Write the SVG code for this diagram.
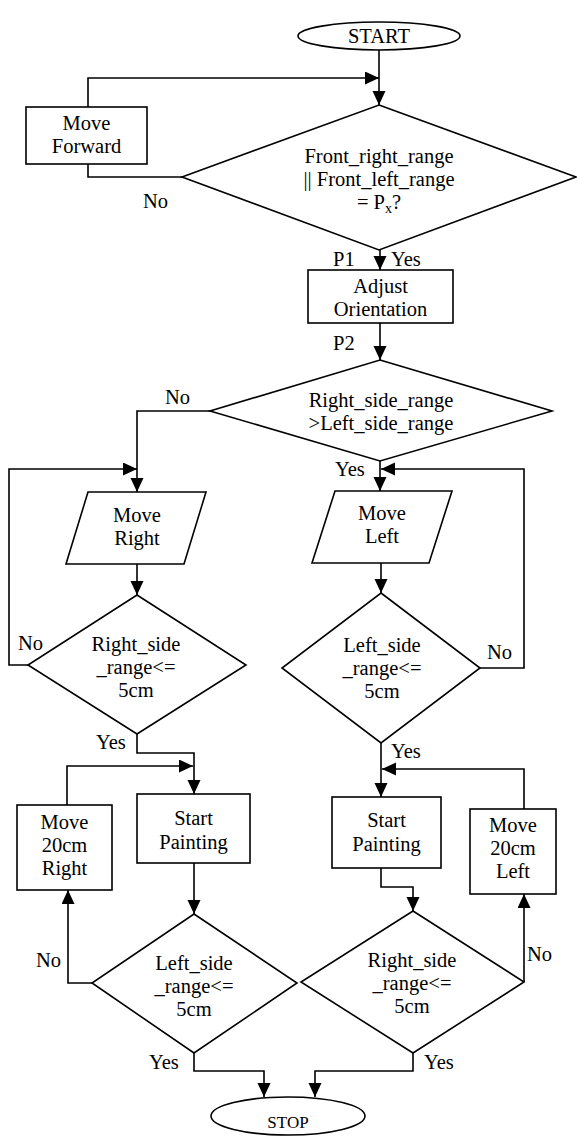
<svg xmlns="http://www.w3.org/2000/svg" width="577" height="1137" viewBox="0 0 577 1137">
<style>
.s{fill:#fff;stroke:#000;stroke-width:1.6}
.c{fill:none;stroke:#000;stroke-width:1.6}
text{font-family:"Liberation Serif","Times New Roman",serif;font-size:20.5px;fill:#000}
.m{text-anchor:middle}
</style>
<defs>
<marker id="a" markerUnits="userSpaceOnUse" markerWidth="15" markerHeight="14" refX="14" refY="6.5" orient="auto">
<path d="M0,0 L14,6.5 L0,13 z" fill="#000"/>
</marker>
</defs>
<g id="connectors" class="c" marker-end="url(#a)">
<path d="M379,50 V105"/>
<path d="M88,107 V78 H379"/>
<path d="M182,177 H88 V164" marker-end="none"/>
<path d="M380,250 V270"/>
<path d="M380,323 V360"/>
<path d="M210,411 H137 V492"/>
<path d="M28,665 H9 V469 H137"/>
<path d="M380,461 V491"/>
<path d="M480,668 H524 V469 H381"/>
<path d="M137,564 V595"/>
<path d="M381,563 V593"/>
<path d="M137,734 V753 H194 V794"/>
<path d="M67,805 V766 H193"/>
<path d="M92,983 H68 V890"/>
<path d="M194,863 V914"/>
<path d="M194,1053 V1071 H264 V1097"/>
<path d="M381,743 V797"/>
<path d="M524,809 V769 H382"/>
<path d="M381,868 V887 H413 V911"/>
<path d="M524,982 V894"/>
<path d="M413,1053 V1071 H315 V1097"/>
</g>
<g id="start"><ellipse class="s" cx="379" cy="36" rx="81" ry="14"/><text class="m" x="379" y="43">START</text></g>
<g id="move_forward"><rect class="s" x="26" y="107" width="121" height="57"/><text class="m" x="86.5" y="130">Move</text><text class="m" x="86.5" y="153">Forward</text></g>
<g id="d1"><polygon class="s" points="379,105 576,177 379,250 182,177"/>
<text class="m" x="379" y="163">Front_right_range</text><text class="m" x="379" y="186">|| Front_left_range</text>
<text class="m" x="379" y="209">= P<tspan font-size="14" dy="4">x</tspan><tspan dy="-4">?</tspan></text></g>
<g id="labels1"><text x="143" y="208">No</text><text x="333" y="266">P1</text><text x="391" y="266">Yes</text><text x="333" y="350">P2</text></g>
<g id="adjust"><rect class="s" x="308" y="270" width="145" height="53"/><text class="m" x="380.5" y="293">Adjust</text><text class="m" x="380.5" y="316">Orientation</text></g>
<g id="d2"><polygon class="s" points="380,360 552,411 380,461 210,411"/>
<text class="m" x="381" y="407">Right_side_range</text><text class="m" x="381" y="430">&gt;Left_side_range</text></g>
<g id="labels2"><text x="165" y="404">No</text><text x="335" y="476">Yes</text></g>
<g id="move_right"><polygon class="s" points="88,492 206,492 184,564 66,564"/><text class="m" x="137" y="522">Move</text><text class="m" x="137" y="545">Right</text></g>
<g id="move_left"><polygon class="s" points="335,491 452,491 429,563 312,563"/><text class="m" x="382" y="520">Move</text><text class="m" x="382" y="543">Left</text></g>
<g id="d3"><polygon class="s" points="137,595 246,665 137,734 28,665"/>
<text class="m" x="136" y="651">Right_side</text><text class="m" x="136" y="674">_range&lt;=</text><text class="m" x="136" y="697">5cm</text></g>
<g id="d4"><polygon class="s" points="381,593 480,668 381,743 282,668"/>
<text class="m" x="382" y="652">Left_side</text><text class="m" x="382" y="675">_range&lt;=</text><text class="m" x="382" y="698">5cm</text></g>
<g id="labels3"><text x="18" y="650">No</text><text x="487" y="659">No</text><text x="96" y="749">Yes</text><text x="391" y="758">Yes</text></g>
<g id="start_painting_l"><rect class="s" x="137" y="794" width="113" height="69"/><text class="m" x="193.5" y="825">Start</text><text class="m" x="193.5" y="849">Painting</text></g>
<g id="move20_right"><rect class="s" x="17" y="805" width="95" height="85"/><text class="m" x="64.5" y="829">Move</text><text class="m" x="64.5" y="852">20cm</text><text class="m" x="64.5" y="875">Right</text></g>
<g id="start_painting_r"><rect class="s" x="332" y="797" width="109" height="71"/><text class="m" x="386.5" y="827">Start</text><text class="m" x="386.5" y="851">Painting</text></g>
<g id="move20_left"><rect class="s" x="470" y="809" width="86" height="85"/><text class="m" x="513" y="832">Move</text><text class="m" x="513" y="855">20cm</text><text class="m" x="513" y="878">Left</text></g>
<g id="d5"><polygon class="s" points="194,914 297,983 194,1053 92,983"/>
<text class="m" x="194" y="970">Left_side</text><text class="m" x="194" y="993">_range&lt;=</text><text class="m" x="194" y="1016">5cm</text></g>
<g id="d6"><polygon class="s" points="413,911 524,982 413,1053 301,982"/>
<text class="m" x="412" y="967">Right_side</text><text class="m" x="412" y="990">_range&lt;=</text><text class="m" x="412" y="1013">5cm</text></g>
<g id="labels4"><text x="36" y="967">No</text><text x="527" y="961">No</text><text x="149" y="1069">Yes</text><text x="424" y="1069">Yes</text></g>
<g id="stop"><ellipse class="s" cx="288" cy="1116" rx="77" ry="19"/><text class="m" x="288" y="1128" style="font-size:17px">STOP</text></g>
</svg>
